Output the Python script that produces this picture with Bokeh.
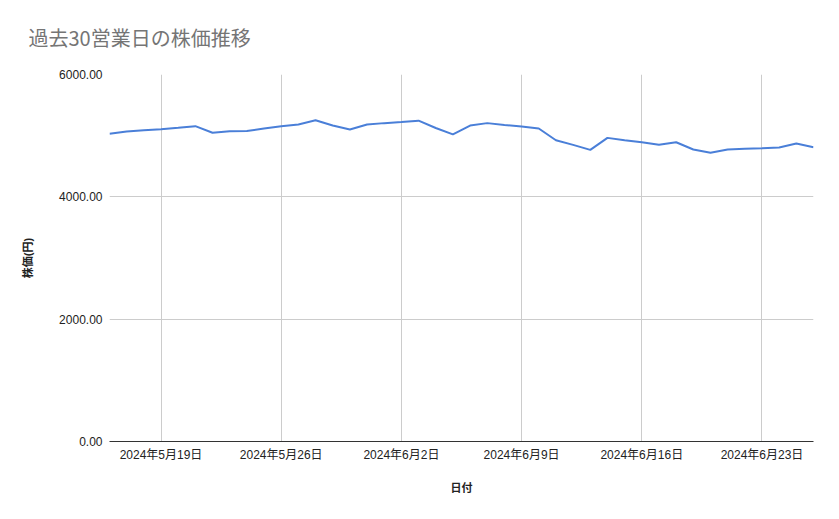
import pandas as pd
from bokeh.plotting import figure
from bokeh.models import ColumnDataSource, FixedTicker, NumeralTickFormatter, Range1d
from bokeh.embed import file_html
from bokeh.resources import INLINE

# daily closing prices, 2024-05-16 .. 2024-06-26
dates = pd.date_range("2024-05-16", "2024-06-26", freq="D")
prices = [5030, 5068, 5090, 5106, 5130, 5155, 5047, 5073, 5075, 5117,
          5155, 5183, 5253, 5166, 5101, 5183, 5205, 5222, 5245, 5125,
          5022, 5165, 5205, 5175, 5150, 5117, 4925, 4850, 4768, 4964,
          4925, 4893, 4850, 4893, 4774, 4720, 4774, 4785, 4795, 4806,
          4871, 4811]

tick_dates = ["2024-05-19", "2024-05-26", "2024-06-02", "2024-06-09", "2024-06-16", "2024-06-23"]
tick_labels = ["2024年5月19日", "2024年5月26日", "2024年6月2日", "2024年6月9日", "2024年6月16日", "2024年6月23日"]
y_ticks = [0, 2000, 4000, 6000]

FONT = "'Liberation Sans', 'Noto Sans CJK JP'"

src = ColumnDataSource(data=dict(x=dates, y=prices))

p = figure(width=831, height=511, x_axis_type="datetime", output_backend="svg",
           toolbar_location=None, title="過去30営業日の株価推移",
           x_range=Range1d(dates[0], dates[-1]), y_range=Range1d(0, 6000))
p.min_border_left = 109
p.min_border_right = 18
p.min_border_top = 74
p.min_border_bottom = 70
p.outline_line_color = None

p.title.text_font = "'Noto Sans CJK JP'"
p.title.text_font_size = "20px"
p.title.text_font_style = "normal"
p.title.text_color = "#757575"
p.title.offset = -81
p.title.standoff = 41
p.title.vertical_align = "top"

tick_ms = [pd.Timestamp(d).value // 10**6 for d in tick_dates]
p.xaxis.ticker = FixedTicker(ticks=tick_ms)
p.xaxis.major_label_overrides = {t: l for t, l in zip(tick_ms, tick_labels)}
p.yaxis.ticker = FixedTicker(ticks=y_ticks)
p.yaxis.formatter = NumeralTickFormatter(format="0.00")

for ax in (p.xaxis, p.yaxis):
    ax.major_tick_line_color = None
    ax.minor_tick_line_color = None
    ax.major_label_text_font = FONT
    ax.major_label_text_font_size = "12px"
    ax.major_label_text_color = "#222222"
    ax.axis_label_text_font = FONT
    ax.axis_label_text_font_size = "11px"
    ax.axis_label_text_font_style = "bold"
    ax.axis_label_text_color = "#222222"

p.xaxis.axis_label = "日付"
p.yaxis.axis_label = "株価(円)"
p.xaxis.axis_line_color = "#333333"
p.yaxis.axis_line_color = None
p.xaxis.major_label_standoff = 0
p.yaxis.major_label_standoff = 1
p.xaxis.axis_label_standoff = 17
p.yaxis.axis_label_standoff = 22

p.grid.grid_line_color = "#cccccc"
p.grid.grid_line_width = 1

p.line("x", "y", source=src, line_color="#4a7fd8", line_width=2)

open("out.html", "w").write(file_html(p, INLINE))
